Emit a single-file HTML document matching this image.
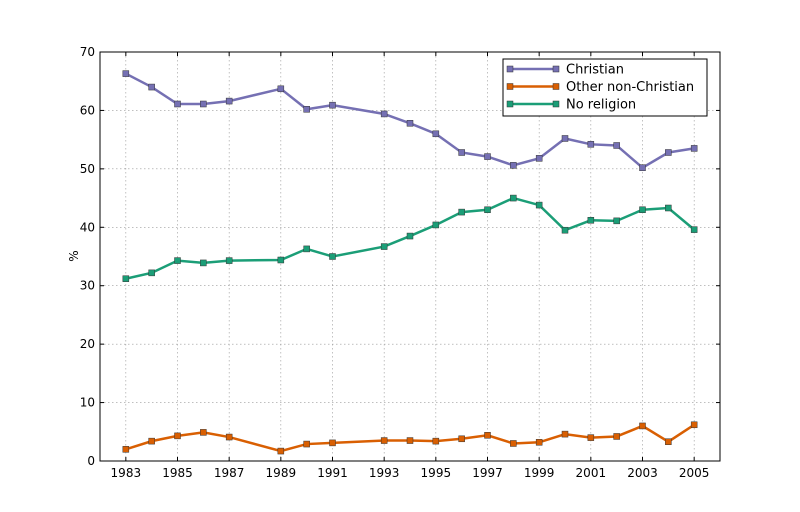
<!DOCTYPE html>
<html><head><meta charset="utf-8"><style>
body{margin:0;background:#fff;}
svg{display:block;font-family:"DejaVu Sans","Liberation Sans",sans-serif;}
</style></head><body>
<svg id="s" width="800" height="512" xmlns="http://www.w3.org/2000/svg"></svg>
<script>
const s=document.getElementById('s');
const X=y=>100+(y-1982)*(620/24), Y=v=>461-v*(409/70);
let h='';
// grid
for(let y=1983;y<=2005;y+=2){h+=`<line x1="${X(y)}" y1="52" x2="${X(y)}" y2="461" stroke="#999" stroke-width="0.6" stroke-dasharray="1.5,2.5"/>`;}
for(let v=10;v<70;v+=10){h+=`<line x1="100" y1="${Y(v)}" x2="720" y2="${Y(v)}" stroke="#999" stroke-width="0.6" stroke-dasharray="1.5,2.5"/>`;}
h+=`<rect x="100" y="52" width="620" height="409" fill="none" stroke="#000" stroke-width="1"/>`;
for(let y=1983;y<=2005;y+=2){h+=`<line x1="${X(y)}" y1="461" x2="${X(y)}" y2="457" stroke="#000"/><line x1="${X(y)}" y1="52" x2="${X(y)}" y2="56" stroke="#000"/><text x="${X(y)}" y="477" font-size="12" text-anchor="middle">${y}</text>`;}
for(let v=0;v<=70;v+=10){h+=`<line x1="100" y1="${Y(v)}" x2="104" y2="${Y(v)}" stroke="#000"/><line x1="720" y1="${Y(v)}" x2="716" y2="${Y(v)}" stroke="#000"/><text x="95" y="${Y(v)+4}" font-size="12" text-anchor="end">${v}</text>`;}
h+=`<text x="78" y="256" font-size="12" text-anchor="middle" transform="rotate(-90 78 256)">%</text>`;
const yrs=[1983,1984,1985,1986,1987,1989,1990,1991,1993,1994,1995,1996,1997,1998,1999,2000,2001,2002,2003,2004,2005];
const data=[
["#7570b3","Christian",[66.3,64,61.1,61.1,61.6,63.7,60.2,60.9,59.4,57.8,56.0,52.8,52.1,50.6,51.8,55.2,54.2,54.0,50.2,52.8,53.5]],
["#d95f02","Other non-Christian",[2.0,3.4,4.3,4.9,4.1,1.7,2.9,3.1,3.5,3.5,3.4,3.8,4.4,3.0,3.2,4.6,4.0,4.2,6.0,3.3,6.2]],
["#1b9e77","No religion",[31.2,32.2,34.3,33.9,34.3,34.4,36.3,35.0,36.7,38.5,40.4,42.6,43.0,45.0,43.8,39.5,41.2,41.1,43.0,43.3,39.6]]];
const mk=(x,y,c)=>`<rect x="${x-3}" y="${y-3}" width="6" height="6" fill="${c}" stroke="#333" stroke-width="0.5"/>`;
data.forEach(([c,n,d])=>{
 h+=`<polyline fill="none" stroke="${c}" stroke-width="2.5" points="${d.map((v,i)=>X(yrs[i])+','+Y(v)).join(' ')}"/>`;
 d.forEach((v,i)=>h+=mk(X(yrs[i]),Y(v),c));
});
h+=`<rect x="503" y="59" width="204" height="57" fill="#fff" stroke="#000"/>`;
data.forEach(([c,n],i)=>{const y=69+i*17.5;
 h+=`<line x1="510" y1="${y}" x2="556" y2="${y}" stroke="${c}" stroke-width="2.5"/>`+mk(510,y,c)+mk(556,y,c)+`<text x="566" y="${y+4.5}" font-size="13">${n}</text>`;});
s.innerHTML=h;
</script>
</body></html>
